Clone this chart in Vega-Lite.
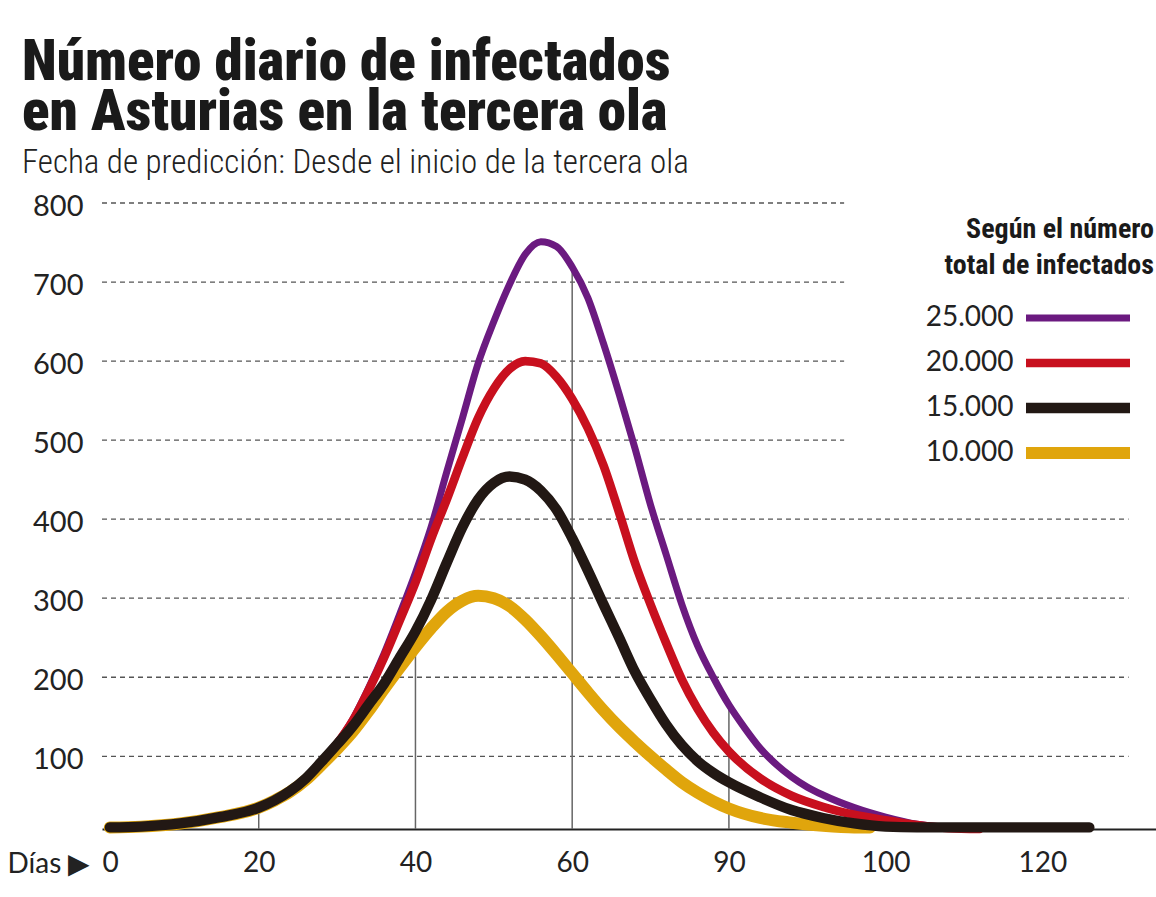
{
  "$schema": "https://vega.github.io/schema/vega-lite/v6.json",
  "autosize": {"type": "none"},
  "padding": {"left": 102, "top": 203, "right": 0, "bottom": 68},
  "width": 1054,
  "height": 626,
  "background": "white",
  "config": {"view": {"stroke": null}},
  "title": {
    "text": ["Número diario de infectados", "en Asturias en la tercera ola"],
    "subtitle": "Fecha de predicción: Desde el inicio de la tercera ola",
    "anchor": "start",
    "frame": "group",
    "dx": -80,
    "offset": 11,
    "font": "Roboto Condensed, Lato, sans-serif",
    "fontWeight": 900,
    "fontSize": 57,
    "lineHeight": 50,
    "color": "#1a1a1a",
    "subtitleFont": "Roboto Condensed, Lato, sans-serif",
    "subtitleFontWeight": 300,
    "subtitleFontSize": 33,
    "subtitleColor": "#222222",
    "subtitlePadding": 5
  },
  "datasets": {
    "curves": [
      {"dia": 1, "casos": 10, "total": "25.000"}, {"dia": 5, "casos": 11, "total": "25.000"}, {"dia": 10, "casos": 15, "total": "25.000"}, {"dia": 15, "casos": 23, "total": "25.000"}, {"dia": 20, "casos": 35, "total": "25.000"}, {"dia": 22, "casos": 44, "total": "25.000"}, {"dia": 24, "casos": 56, "total": "25.000"}, {"dia": 26, "casos": 72, "total": "25.000"}, {"dia": 28, "casos": 93, "total": "25.000"}, {"dia": 30, "casos": 117, "total": "25.000"}, {"dia": 32, "casos": 147, "total": "25.000"}, {"dia": 34, "casos": 186, "total": "25.000"}, {"dia": 36, "casos": 230, "total": "25.000"}, {"dia": 38, "casos": 280, "total": "25.000"}, {"dia": 40, "casos": 332, "total": "25.000"}, {"dia": 42, "casos": 390, "total": "25.000"}, {"dia": 44, "casos": 460, "total": "25.000"}, {"dia": 46, "casos": 528, "total": "25.000"}, {"dia": 48, "casos": 597, "total": "25.000"}, {"dia": 50, "casos": 650, "total": "25.000"}, {"dia": 52, "casos": 697, "total": "25.000"}, {"dia": 54, "casos": 735, "total": "25.000"}, {"dia": 56, "casos": 751, "total": "25.000"}, {"dia": 58, "casos": 745, "total": "25.000"}, {"dia": 60, "casos": 719, "total": "25.000"}, {"dia": 62, "casos": 680, "total": "25.000"}, {"dia": 64, "casos": 622, "total": "25.000"}, {"dia": 66, "casos": 558, "total": "25.000"}, {"dia": 68, "casos": 490, "total": "25.000"}, {"dia": 70, "casos": 418, "total": "25.000"}, {"dia": 72, "casos": 355, "total": "25.000"}, {"dia": 74, "casos": 292, "total": "25.000"}, {"dia": 76, "casos": 240, "total": "25.000"}, {"dia": 78, "casos": 200, "total": "25.000"}, {"dia": 80, "casos": 165, "total": "25.000"}, {"dia": 82, "casos": 136, "total": "25.000"}, {"dia": 84, "casos": 110, "total": "25.000"}, {"dia": 86, "casos": 90, "total": "25.000"}, {"dia": 88, "casos": 74, "total": "25.000"}, {"dia": 90, "casos": 61, "total": "25.000"}, {"dia": 92, "casos": 51, "total": "25.000"}, {"dia": 96, "casos": 35, "total": "25.000"}, {"dia": 100, "casos": 23, "total": "25.000"}, {"dia": 104, "casos": 14, "total": "25.000"}, {"dia": 108, "casos": 10, "total": "25.000"}, {"dia": 110, "casos": 9, "total": "25.000"},
      {"dia": 1, "casos": 10, "total": "20.000"}, {"dia": 5, "casos": 11, "total": "20.000"}, {"dia": 10, "casos": 15, "total": "20.000"}, {"dia": 15, "casos": 23, "total": "20.000"}, {"dia": 20, "casos": 35, "total": "20.000"}, {"dia": 22, "casos": 44, "total": "20.000"}, {"dia": 24, "casos": 56, "total": "20.000"}, {"dia": 26, "casos": 72, "total": "20.000"}, {"dia": 28, "casos": 93, "total": "20.000"}, {"dia": 30, "casos": 116, "total": "20.000"}, {"dia": 32, "casos": 145, "total": "20.000"}, {"dia": 34, "casos": 183, "total": "20.000"}, {"dia": 36, "casos": 225, "total": "20.000"}, {"dia": 38, "casos": 272, "total": "20.000"}, {"dia": 40, "casos": 320, "total": "20.000"}, {"dia": 42, "casos": 375, "total": "20.000"}, {"dia": 44, "casos": 425, "total": "20.000"}, {"dia": 46, "casos": 478, "total": "20.000"}, {"dia": 48, "casos": 528, "total": "20.000"}, {"dia": 50, "casos": 565, "total": "20.000"}, {"dia": 52, "casos": 590, "total": "20.000"}, {"dia": 54, "casos": 600, "total": "20.000"}, {"dia": 56, "casos": 597, "total": "20.000"}, {"dia": 58, "casos": 580, "total": "20.000"}, {"dia": 60, "casos": 552, "total": "20.000"}, {"dia": 62, "casos": 515, "total": "20.000"}, {"dia": 64, "casos": 468, "total": "20.000"}, {"dia": 66, "casos": 408, "total": "20.000"}, {"dia": 68, "casos": 345, "total": "20.000"}, {"dia": 70, "casos": 292, "total": "20.000"}, {"dia": 72, "casos": 243, "total": "20.000"}, {"dia": 74, "casos": 197, "total": "20.000"}, {"dia": 76, "casos": 160, "total": "20.000"}, {"dia": 78, "casos": 130, "total": "20.000"}, {"dia": 80, "casos": 106, "total": "20.000"}, {"dia": 84, "casos": 72, "total": "20.000"}, {"dia": 88, "casos": 50, "total": "20.000"}, {"dia": 92, "casos": 36, "total": "20.000"}, {"dia": 96, "casos": 26, "total": "20.000"}, {"dia": 100, "casos": 19, "total": "20.000"}, {"dia": 104, "casos": 13, "total": "20.000"}, {"dia": 108, "casos": 9, "total": "20.000"}, {"dia": 112, "casos": 8, "total": "20.000"},
      {"dia": 1, "casos": 10, "total": "10.000"}, {"dia": 5, "casos": 11, "total": "10.000"}, {"dia": 10, "casos": 15, "total": "10.000"}, {"dia": 15, "casos": 23, "total": "10.000"}, {"dia": 20, "casos": 35, "total": "10.000"}, {"dia": 22, "casos": 44, "total": "10.000"}, {"dia": 24, "casos": 55, "total": "10.000"}, {"dia": 26, "casos": 70, "total": "10.000"}, {"dia": 28, "casos": 89, "total": "10.000"}, {"dia": 30, "casos": 109, "total": "10.000"}, {"dia": 32, "casos": 131, "total": "10.000"}, {"dia": 34, "casos": 157, "total": "10.000"}, {"dia": 36, "casos": 185, "total": "10.000"}, {"dia": 38, "casos": 212, "total": "10.000"}, {"dia": 40, "casos": 238, "total": "10.000"}, {"dia": 42, "casos": 262, "total": "10.000"}, {"dia": 44, "casos": 283, "total": "10.000"}, {"dia": 46, "casos": 297, "total": "10.000"}, {"dia": 48, "casos": 303, "total": "10.000"}, {"dia": 50, "casos": 300, "total": "10.000"}, {"dia": 52, "casos": 290, "total": "10.000"}, {"dia": 54, "casos": 273, "total": "10.000"}, {"dia": 56, "casos": 252, "total": "10.000"}, {"dia": 58, "casos": 229, "total": "10.000"}, {"dia": 60, "casos": 205, "total": "10.000"}, {"dia": 62, "casos": 181, "total": "10.000"}, {"dia": 64, "casos": 158, "total": "10.000"}, {"dia": 66, "casos": 137, "total": "10.000"}, {"dia": 68, "casos": 118, "total": "10.000"}, {"dia": 70, "casos": 100, "total": "10.000"}, {"dia": 72, "casos": 83, "total": "10.000"}, {"dia": 74, "casos": 67, "total": "10.000"}, {"dia": 76, "casos": 54, "total": "10.000"}, {"dia": 78, "casos": 43, "total": "10.000"}, {"dia": 80, "casos": 34, "total": "10.000"}, {"dia": 84, "casos": 22, "total": "10.000"}, {"dia": 88, "casos": 16, "total": "10.000"}, {"dia": 92, "casos": 12, "total": "10.000"}, {"dia": 96, "casos": 10, "total": "10.000"}, {"dia": 98, "casos": 10, "total": "10.000"},
      {"dia": 1, "casos": 10, "total": "15.000"}, {"dia": 5, "casos": 11, "total": "15.000"}, {"dia": 10, "casos": 15, "total": "15.000"}, {"dia": 15, "casos": 23, "total": "15.000"}, {"dia": 20, "casos": 35, "total": "15.000"}, {"dia": 22, "casos": 44, "total": "15.000"}, {"dia": 24, "casos": 56, "total": "15.000"}, {"dia": 26, "casos": 72, "total": "15.000"}, {"dia": 28, "casos": 93, "total": "15.000"}, {"dia": 30, "casos": 115, "total": "15.000"}, {"dia": 32, "casos": 138, "total": "15.000"}, {"dia": 34, "casos": 165, "total": "15.000"}, {"dia": 36, "casos": 192, "total": "15.000"}, {"dia": 38, "casos": 225, "total": "15.000"}, {"dia": 40, "casos": 258, "total": "15.000"}, {"dia": 42, "casos": 298, "total": "15.000"}, {"dia": 44, "casos": 345, "total": "15.000"}, {"dia": 46, "casos": 390, "total": "15.000"}, {"dia": 48, "casos": 425, "total": "15.000"}, {"dia": 50, "casos": 446, "total": "15.000"}, {"dia": 52, "casos": 454, "total": "15.000"}, {"dia": 54, "casos": 450, "total": "15.000"}, {"dia": 56, "casos": 436, "total": "15.000"}, {"dia": 58, "casos": 412, "total": "15.000"}, {"dia": 60, "casos": 376, "total": "15.000"}, {"dia": 62, "casos": 335, "total": "15.000"}, {"dia": 64, "casos": 292, "total": "15.000"}, {"dia": 66, "casos": 250, "total": "15.000"}, {"dia": 68, "casos": 207, "total": "15.000"}, {"dia": 70, "casos": 172, "total": "15.000"}, {"dia": 72, "casos": 140, "total": "15.000"}, {"dia": 74, "casos": 114, "total": "15.000"}, {"dia": 76, "casos": 94, "total": "15.000"}, {"dia": 78, "casos": 79, "total": "15.000"}, {"dia": 80, "casos": 67, "total": "15.000"}, {"dia": 84, "casos": 48, "total": "15.000"}, {"dia": 88, "casos": 32, "total": "15.000"}, {"dia": 92, "casos": 22, "total": "15.000"}, {"dia": 96, "casos": 15, "total": "15.000"}, {"dia": 100, "casos": 11, "total": "15.000"}, {"dia": 104, "casos": 10, "total": "15.000"}, {"dia": 110, "casos": 10, "total": "15.000"}, {"dia": 120, "casos": 10, "total": "15.000"}, {"dia": 126, "casos": 10, "total": "15.000"}
    ],
    "grid": [
      {"valor": 800, "desde": 0, "hasta": 94.7},
      {"valor": 700, "desde": 0, "hasta": 94.7},
      {"valor": 600, "desde": 0, "hasta": 94.7},
      {"valor": 500, "desde": 0, "hasta": 94.7},
      {"valor": 400, "desde": 0, "hasta": 131},
      {"valor": 300, "desde": 0, "hasta": 131},
      {"valor": 200, "desde": 0, "hasta": 131},
      {"valor": 100, "desde": 0, "hasta": 131}
    ],
    "guias": [
      {"dia": 20, "tope": 36},
      {"dia": 40, "tope": 259},
      {"dia": 60, "tope": 719},
      {"dia": 80, "tope": 165}
    ]
  },
  "layer": [
    {
      "data": {"name": "grid"},
      "mark": {"type": "rule", "color": "#555555", "strokeWidth": 1.3, "strokeDash": [5, 4]},
      "encoding": {
        "y": {"field": "valor", "type": "quantitative"},
        "x": {"field": "desde", "type": "quantitative"},
        "x2": {"field": "hasta"}
      }
    },
    {
      "data": {"name": "guias"},
      "mark": {"type": "rule", "color": "#666666", "strokeWidth": 1.5},
      "encoding": {
        "x": {"field": "dia", "type": "quantitative"},
        "y": {"field": "tope", "type": "quantitative"},
        "y2": {"datum": 8}
      }
    },
    {
      "data": {"name": "curves"},
      "mark": {"type": "line", "interpolate": "monotone", "strokeCap": "round", "strokeJoin": "round"},
      "encoding": {
        "x": {
          "field": "dia", "type": "quantitative",
          "scale": {"domain": [0, 134.5], "nice": false, "zero": false},
          "axis": {
            "values": [0, 20, 40, 60, 80, 100, 120],
            "labelExpr": "datum.value == 80 ? '90' : datum.label",
            "domain": true, "domainColor": "#222222", "domainWidth": 2,
            "ticks": false, "grid": false,
            "labelFont": "Lato", "labelFontSize": 28, "labelColor": "#222222", "labelPadding": 20,
            "title": "Días ▶", "titleFont": "Lato", "titleFontSize": 28, "titleFontWeight": "normal",
            "titleColor": "#222222", "titleX": -95, "titleY": 43, "titleAlign": "left", "titleBaseline": "alphabetic"
          }
        },
        "y": {
          "field": "casos", "type": "quantitative",
          "scale": {"domain": [8, 800], "nice": false, "zero": false},
          "axis": {
            "values": [100, 200, 300, 400, 500, 600, 700, 800],
            "domain": false, "ticks": false, "grid": false,
            "labelFont": "Lato", "labelFontSize": 29, "labelColor": "#222222", "labelPadding": 19, "labelOffset": 3,
            "title": null
          }
        },
        "color": {
          "field": "total", "type": "nominal",
          "scale": {"domain": ["25.000", "20.000", "15.000", "10.000"], "range": ["#6b1a80", "#c8101e", "#221814", "#e0a50c"]},
          "legend": {
            "orient": "none", "legendX": 843, "legendY": 13,
            "title": ["Según el número", "total de infectados"],
            "titleFont": "Roboto Condensed, Lato, sans-serif",
            "titleFontWeight": "bold", "titleFontSize": 28, "titleLineHeight": 36,
            "titleColor": "#1a1a1a", "titleAnchor": "end", "titleAlign": "right", "titleLimit": 400, "titlePadding": 24,
            "symbolType": "M-10,0H10", "symbolSize": 108.16,
            "labelFont": "Lato", "labelFontSize": 28, "labelColor": "#222222",
            "labelAlign": "right", "labelOffset": -78.5, "labelLimit": 300,
            "gridAlign": "all", "rowPadding": -3, "padding": 0
          }
        },
        "strokeWidth": {
          "field": "total", "type": "ordinal",
          "scale": {"domain": ["25.000", "20.000", "15.000", "10.000"], "range": [7, 12, 12, 8]}
        }
      }
    }
  ]
}
